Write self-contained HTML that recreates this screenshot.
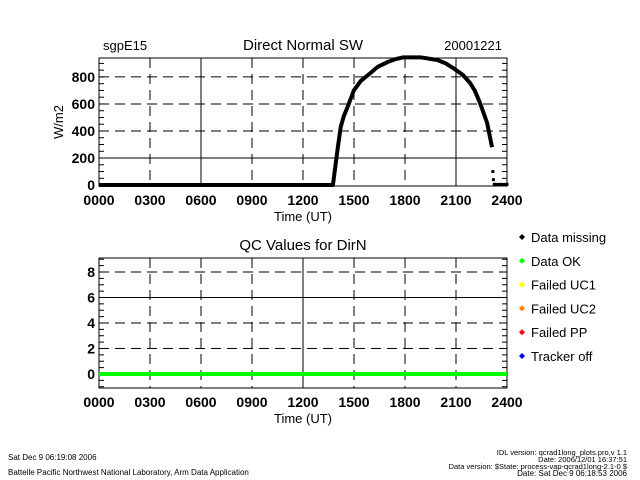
<!DOCTYPE html>
<html><head><meta charset="utf-8"><style>
body{margin:0;background:#fff;}
svg{display:block;font-family:"Liberation Sans",sans-serif;}
</style></head><body>
<svg id="chart" width="640" height="480" xmlns="http://www.w3.org/2000/svg">
<g id="g"></g>
</svg>
<script>
const xTickLabels=["0000","0300","0600","0900","1200","1500","1800","2100","2400"];
const swTimes=[0,13.5,13.76,14.05,14.22,14.4,14.63,14.99,15.4,15.98,16.4,16.98,17.4,17.91,18.91,19.9,20.4,20.84,21.4,21.83,22.1,22.42,22.83,23.12];
const swValues=[0,0,0,280,430,510,580,700,770,830,875,910,930,945,945,925,900,865,815,755,700,605,460,280];
const swTailTimes=[23.17,23.2,23.25,23.3,24];
const swTailValues=[100,40,5,5,5];
const swYTicks=[0,200,400,600,800];
const qcYTicks=[0,2,4,6,8];
const qcTimes=[0,24];
const qcValues=[0,0];
const legendLabels=["Data missing","Data OK","Failed UC1","Failed UC2","Failed PP","Tracker off"];
const legendColors=["#000","#00ff00","#ffff00","#ff8000","#ff0000","#0000ff"];

const NS="http://www.w3.org/2000/svg";
const g=document.getElementById('g');
function mk(t,a,p){const e=document.createElementNS(NS,t);for(const k in a)e.setAttribute(k,a[k]);(p||g).appendChild(e);return e;}
const X0=99,X1=507;
const sx=t=>X0+(X1-X0)*t/24;

function panel(top,bot,ymin,ymax,yt,minorStep,vSolid,hSolid,title,name){
  const sy=v=>bot-(bot-top)*(v-ymin)/(ymax-ymin);
  const pg=mk('g',{});
  
  
  for(let i=1;i<8;i++){const l=mk('line',{x1:sx(i*3),x2:sx(i*3),y1:top,y2:bot,stroke:'#000','stroke-width':1},pg);
    if(!vSolid.includes(i))l.setAttribute('stroke-dasharray','10,6');
    }
  yt.forEach(v=>{if(v===yt[0])return;const l=mk('line',{x1:X0,x2:X1,y1:sy(v),y2:sy(v),stroke:'#000','stroke-width':1},pg);
    if(v!==hSolid)l.setAttribute('stroke-dasharray','10,6');
    });
  for(let v=Math.ceil(ymin/minorStep)*minorStep;v<=ymax;v+=minorStep){
    mk('line',{x1:X0,x2:X0+5,y1:sy(v),y2:sy(v),stroke:'#000'},pg);
    mk('line',{x1:X1,x2:X1-5,y1:sy(v),y2:sy(v),stroke:'#000'},pg);
  }
  const fr=mk('rect',{x:X0,y:top,width:X1-X0,height:bot-top,fill:'none',stroke:'#000','stroke-width':1},pg);
  
  yt.forEach(v=>{const t=mk('text',{x:X0-4,y:sy(v)+5,'text-anchor':'end','font-size':14,'font-weight':'bold'},pg);t.textContent=v;
    });
  xTickLabels.forEach((s,i)=>{const t=mk('text',{x:sx(i*3),y:bot+19,'text-anchor':'middle','font-size':14,'font-weight':'bold'},pg);t.textContent=s;
    });
  const xt=mk('text',{x:303,y:bot+35,'text-anchor':'middle','font-size':13},pg);xt.textContent='Time (UT)';
  
  const tt=mk('text',{x:303,y:top-8,'text-anchor':'middle','font-size':15},pg);tt.textContent=title;
  
  return sy;
}
const sy1=panel(58,186,-7,940,swYTicks,50,[2,7],200,'Direct Normal SW','sw-panel');
let p=swTimes.map((t,i)=>sx(t)+','+sy1(swValues[i])).join(' ');
const sw=mk('polyline',{points:p,fill:'none',stroke:'#000','stroke-width':4,'stroke-linejoin':'round'});

swTailTimes.forEach((t,i)=>{const r=mk('rect',{x:sx(t)-1.5,y:sy1(swTailValues[i])-1.5,width:3,height:3,fill:'#000'});
  });
const tail=mk('line',{x1:sx(23.3),x2:sx(24),y1:sy1(5),y2:sy1(5),stroke:'#000','stroke-width':3});

const yl=mk('text',{x:0,y:0,'text-anchor':'middle','font-size':13,transform:'translate(63,122) rotate(-90)'});yl.textContent='W/m2';

const st=mk('text',{x:103,y:50,'font-size':13});st.textContent='sgpE15';

const dt=mk('text',{x:502,y:50,'text-anchor':'end','font-size':13});dt.textContent='20001221';

const sy2=panel(258,388,-1.1,9.1,qcYTicks,0.5,[4],6,'QC Values for DirN','qc-panel');
const qc=mk('polyline',{points:qcTimes.map((t,i)=>sx(t)+','+sy2(qcValues[i])).join(' '),fill:'none',stroke:'#00ff00','stroke-width':4});

legendLabels.forEach((s,i)=>{const y=237+i*23.8;
  const d=mk('path',{d:`M${522-3},${y} L${522},${y-3} L${522+3},${y} L${522},${y+3}Z`,fill:legendColors[i]});
  
  const t=mk('text',{x:531,y:y+5,'font-size':13});t.textContent=s;
  });
const foot=[[8,460,'start','Sat Dec  9 06:19:08 2006'],[8,475,'start','Battelle Pacific Northwest National Laboratory, Arm Data Application'],
 [627,455,'end','IDL version: qcrad1long_plots.pro,v 1.1'],[627,462,'end','Date: 2006/12/01 16:37:51'],
 [627,469,'end','Data version: $State: process-vap-qcrad1long-2.1-0 $'],[627,476,'end','Date: Sat Dec  9 06:18:53 2006']];
foot.forEach(f=>{const t=mk('text',{x:f[0],y:f[1],'text-anchor':f[2],'font-size':f[1]<470&&f[0]>600?7.5:8});t.textContent=f[3];
  });
</script>
</body></html>
